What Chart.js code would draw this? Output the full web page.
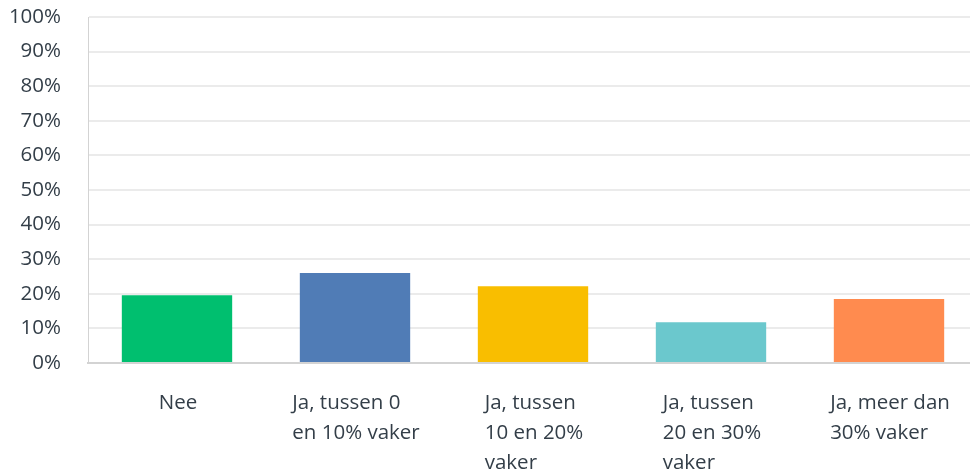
<!DOCTYPE html>
<html>
<head>
<meta charset="utf-8">
<script src="https://cdn.jsdelivr.net/npm/chart.js@4"></script>
<style>
  html, body { margin: 0; padding: 0; background: #fff; }
  #wrap { width: 970px; height: 469px; overflow: hidden; }
</style>
</head>
<body>
<div id="wrap"><canvas id="myChart" width="978" height="469"></canvas></div>
<script>
// antwoordcategorieën (meerregelige labels)
const categories = [
  ["Nee"],
  ["Ja, tussen 0", "en 10% vaker"],
  ["Ja, tussen", "10 en 20%", "vaker"],
  ["Ja, tussen", "20 en 30%", "vaker"],
  ["Ja, meer dan", "30% vaker"]
];
// percentage respondenten
const values = [19.6, 26.0, 22.2, 11.8, 18.5];
const barColors = ["#00bf6f", "#507cb6", "#f9be00", "#6bc8cd", "#ff8b4f"];
const yTicks = [0, 10, 20, 30, 40, 50, 60, 70, 80, 90, 100];

const textColor = "#333e48";
const fontFamily = "'Open Sans', sans-serif";
const fontSize = 20.5;

// x-labels: regels links uitgelijnd, blok gecentreerd onder de staaf
const leftAlignedLabels = {
  id: "leftAlignedLabels",
  afterDraw(chart) {
    const c = chart.ctx;
    const xScale = chart.scales.x;
    c.save();
    c.font = fontSize + "px " + fontFamily;
    c.fillStyle = textColor;
    c.textAlign = "left";
    c.textBaseline = "alphabetic";
    chart.data.labels.forEach((lines, i) => {
      const w = Math.max(...lines.map((l) => c.measureText(l).width));
      const x0 = xScale.getPixelForTick(i) - w / 2 + 1;
      lines.forEach((l, k) => {
        c.fillText(l, x0, xScale.top + 46 + k * 30);
      });
    });
    c.restore();
  },
};

const ctx = document.getElementById("myChart").getContext("2d");
new Chart(ctx, {
  type: "bar",
  data: {
    labels: categories,
    datasets: [
      {
        label: "Antwoorden",
        data: values,
        backgroundColor: barColors,
        borderWidth: 0,
        categoryPercentage: 1.0,
        barPercentage: 0.62,
      },
    ],
  },
  plugins: [leftAlignedLabels],
  options: {
    responsive: false,
    animation: false,
    layout: { padding: { top: 17, right: 0, left: 0, bottom: 0 } },
    plugins: { legend: { display: false }, tooltip: { enabled: false } },
    scales: {
      x: {
        grid: { display: false, drawTicks: false },
        border: { color: "#d3d3d3", width: 2 },
        ticks: { display: false },
        afterFit: (scale) => {
          scale.height = 106;
          scale.paddingLeft = 0;
          scale.paddingRight = 0;
        },
      },
      y: {
        min: 0,
        max: 100,
        afterBuildTicks: (scale) => { scale.ticks = yTicks.map((v) => ({ value: v })); },
        grid: { color: "#ebebeb", lineWidth: 2, drawTicks: false },
        border: { color: "#d3d3d3", width: 1 },
        ticks: {
          color: textColor,
          padding: 27,
          font: { family: fontFamily, size: fontSize },
          callback: (v) => v + "%",
        },
        afterFit: (scale) => {
          scale.width = 88;
          scale.paddingTop = 0;
          scale.paddingBottom = 0;
        },
      },
    },
  },
});
</script>
</body>
</html>
